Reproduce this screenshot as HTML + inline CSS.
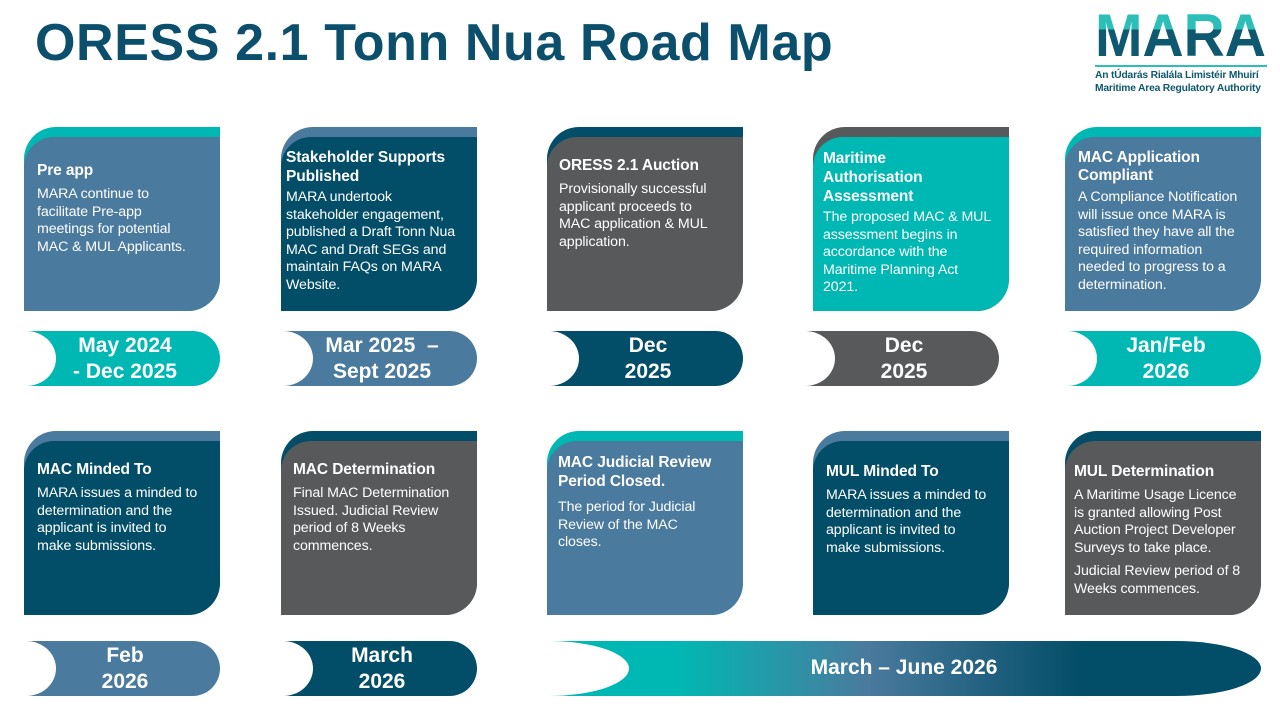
<!DOCTYPE html>
<html><head><meta charset="utf-8"><style>
*{margin:0;padding:0;box-sizing:border-box}
body{width:1280px;height:720px;background:#fff;position:relative;overflow:hidden;font-family:"Liberation Sans",sans-serif;color:#fff}
h1{position:absolute;left:35px;top:13px;font-size:52px;font-weight:bold;color:#0b4f6c;letter-spacing:0.6px}
.card{position:absolute;width:196px;height:184px;border-radius:32px 0 32px 0;overflow:hidden}
.card .in{position:absolute;left:0;right:0;top:10px;bottom:0;border-radius:30px 0 30px 0}
.card .tx{position:absolute;left:13px;right:2px;font-size:14.2px;line-height:17.6px;letter-spacing:-0.1px}
.card b{display:block;font-size:15.5px;line-height:19px;margin-bottom:6px;letter-spacing:-0.1px}
.card p+p{margin-top:6px}
.pill{position:absolute;width:196px;height:55px;border-radius:0 28px 28px 0;overflow:hidden}
.pill:before{content:"";position:absolute;left:-28px;top:0;width:60px;height:55px;border-radius:50%;background:#fff}
.pill span{position:absolute;left:6px;right:0;top:2px;text-align:center;font-weight:bold;font-size:21px;line-height:26px}
.T{background:#00b8b3}.S{background:#4a7a9e}.D{background:#024d67}.G{background:#58595b}
</style></head><body>
<h1>ORESS 2.1 Tonn Nua Road Map</h1>
<div style="position:absolute;left:1095px;top:8px;width:172px">
<div style="font-size:60px;font-weight:bold;line-height:56px;width:200px;transform:scaleX(0.95);transform-origin:0 0;background:linear-gradient(#2cbfb9 0 38%,#0e5870 38%);-webkit-background-clip:text;color:transparent">MARA</div>
<div style="height:2px;background:#2cbfb9;margin:1px 0 3px"></div>
<div style="color:#0e5870;font-size:10.3px;font-weight:bold;line-height:12.5px;text-align:left;white-space:nowrap;letter-spacing:-0.2px">An tÚdarás Rialála Limistéir Mhuirí<br>Maritime Area Regulatory Authority</div>
</div>

<!-- row 1 -->
<div class="card T" style="left:24px;top:127px"><div class="in S"></div><div class="tx" style="top:34px"><b>Pre app</b>MARA continue to<br>facilitate Pre-app<br>meetings for potential<br>MAC &amp; MUL Applicants.</div></div>
<div class="card S" style="left:281px;top:127px"><div class="in D"></div><div class="tx" style="top:21px;left:5px"><b style="margin-bottom:3px">Stakeholder Supports<br>Published</b>MARA undertook<br>stakeholder engagement,<br>published a Draft Tonn Nua<br>MAC and Draft SEGs and<br>maintain FAQs on MARA<br>Website.</div></div>
<div class="card D" style="left:547px;top:127px"><div class="in G"></div><div class="tx" style="top:29px;left:12px"><b>ORESS 2.1 Auction</b>Provisionally successful<br>applicant proceeds to<br>MAC application &amp; MUL<br>application.</div></div>
<div class="card G" style="left:813px;top:127px"><div class="in T"></div><div class="tx" style="top:22px;left:10px"><b style="margin-bottom:3px">Maritime<br>Authorisation<br>Assessment</b>The proposed MAC &amp; MUL<br>assessment begins in<br>accordance with the<br>Maritime Planning Act<br>2021.</div></div>
<div class="card T" style="left:1065px;top:127px"><div class="in S"></div><div class="tx" style="top:22px"><b style="line-height:17.5px;margin-bottom:5px">MAC Application<br>Compliant</b>A Compliance Notification<br>will issue once MARA is<br>satisfied they have all the<br>required information<br>needed to progress to a<br>determination.</div></div>

<div class="pill T" style="left:24px;top:331px"><span>May 2024<br>- Dec 2025</span></div>
<div class="pill S" style="left:281px;top:331px"><span>Mar 2025 &nbsp;–<br>Sept 2025</span></div>
<div class="pill D" style="left:547px;top:331px"><span>Dec<br>2025</span></div>
<div class="pill G" style="left:803px;top:331px"><span>Dec<br>2025</span></div>
<div class="pill T" style="left:1065px;top:331px"><span>Jan/Feb<br>2026</span></div>

<!-- row 2 -->
<div class="card S" style="left:24px;top:431px"><div class="in D"></div><div class="tx" style="top:29px"><b>MAC Minded To</b>MARA issues a minded to<br>determination and the<br>applicant is invited to<br>make submissions.</div></div>
<div class="card D" style="left:281px;top:431px"><div class="in G"></div><div class="tx" style="top:29px;left:12px"><b>MAC Determination</b>Final MAC Determination<br>Issued. Judicial Review<br>period of 8 Weeks<br>commences.</div></div>
<div class="card T" style="left:547px;top:431px"><div class="in S"></div><div class="tx" style="top:22px;left:11px"><b style="line-height:19px;margin-bottom:8px">MAC Judicial Review<br>Period Closed.</b>The period for Judicial<br>Review of the MAC<br>closes.</div></div>
<div class="card S" style="left:813px;top:431px"><div class="in D"></div><div class="tx" style="top:31px"><b>MUL Minded To</b>MARA issues a minded to<br>determination and the<br>applicant is invited to<br>make submissions.</div></div>
<div class="card D" style="left:1065px;top:431px"><div class="in G"></div><div class="tx" style="top:31px;left:9px"><b>MUL Determination</b><p>A Maritime Usage Licence<br>is granted allowing Post<br>Auction Project Developer<br>Surveys to take place.</p><p>Judicial Review period of 8<br>Weeks commences.</p></div></div>

<div class="pill S" style="left:24px;top:641px"><span>Feb<br>2026</span></div>
<div class="pill D" style="left:281px;top:641px"><span>March<br>2026</span></div>
<div style="position:absolute;left:547px;top:641px;width:714px;height:55px;border-radius:0 85px 85px 0/0 27.5px 27.5px 0;overflow:hidden;background:linear-gradient(90deg,#00b8b3 0%,#00b8b3 18%,#4a7a9e 45%,#024d67 75%,#024d67 100%)">
<div style="position:absolute;left:-80px;top:0;width:162px;height:55px;border-radius:50%;background:#fff"></div>
<div style="position:absolute;left:0;right:0;top:14px;text-align:center;font-weight:bold;font-size:21px;line-height:26px">March – June 2026</div>
</div>
</body></html>
